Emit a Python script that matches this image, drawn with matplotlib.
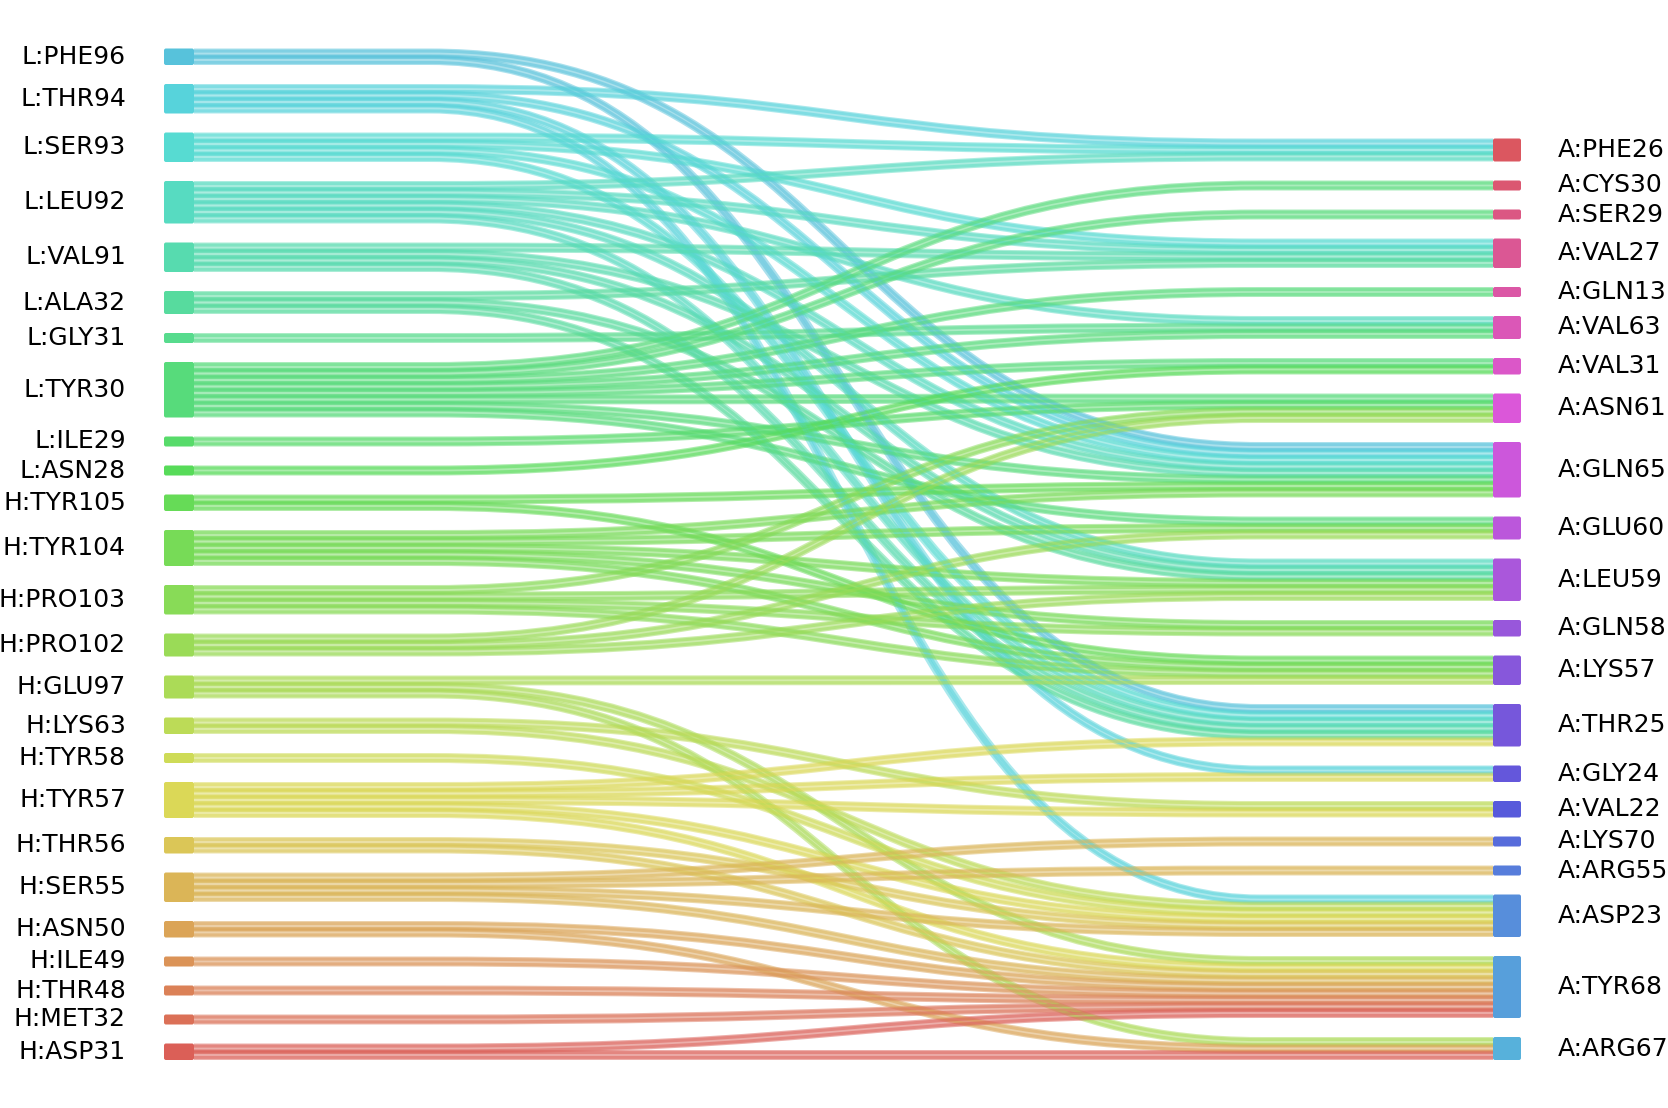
import matplotlib
matplotlib.use("Agg")
import matplotlib.pyplot as plt
from matplotlib.path import Path
from matplotlib.patches import PathPatch, FancyBboxPatch
import seaborn as sns

# ---------------- data ----------------
left_labels = ["L:PHE96", "L:THR94", "L:SER93", "L:LEU92", "L:VAL91", "L:ALA32",
               "L:GLY31", "L:TYR30", "L:ILE29", "L:ASN28", "H:TYR105", "H:TYR104",
               "H:PRO103", "H:PRO102", "H:GLU97", "H:LYS63", "H:TYR58", "H:TYR57",
               "H:THR56", "H:SER55", "H:ASN50", "H:ILE49", "H:THR48", "H:MET32",
               "H:ASP31"]
right_labels = ["A:PHE26", "A:CYS30", "A:SER29", "A:VAL27", "A:GLN13", "A:VAL63",
                "A:VAL31", "A:ASN61", "A:GLN65", "A:GLU60", "A:LEU59", "A:GLN58",
                "A:LYS57", "A:THR25", "A:GLY24", "A:VAL22", "A:LYS70", "A:ARG55",
                "A:ASP23", "A:TYR68", "A:ARG67"]

link_src = ["L:PHE96", "L:PHE96",
            "L:THR94", "L:THR94", "L:THR94", "L:THR94",
            "L:SER93", "L:SER93", "L:SER93", "L:SER93",
            "L:LEU92", "L:LEU92", "L:LEU92", "L:LEU92", "L:LEU92", "L:LEU92",
            "L:VAL91", "L:VAL91", "L:VAL91", "L:VAL91",
            "L:ALA32", "L:ALA32", "L:ALA32",
            "L:GLY31",
            "L:TYR30", "L:TYR30", "L:TYR30", "L:TYR30", "L:TYR30", "L:TYR30", "L:TYR30", "L:TYR30",
            "L:ILE29", "L:ASN28",
            "H:TYR105", "H:TYR105",
            "H:TYR104", "H:TYR104", "H:TYR104", "H:TYR104", "H:TYR104",
            "H:PRO103", "H:PRO103", "H:PRO103", "H:PRO103",
            "H:PRO102", "H:PRO102", "H:PRO102",
            "H:GLU97", "H:GLU97", "H:GLU97",
            "H:LYS63", "H:LYS63",
            "H:TYR58",
            "H:TYR57", "H:TYR57", "H:TYR57", "H:TYR57", "H:TYR57",
            "H:THR56", "H:THR56",
            "H:SER55", "H:SER55", "H:SER55", "H:SER55",
            "H:ASN50", "H:ASN50",
            "H:ILE49", "H:THR48", "H:MET32",
            "H:ASP31", "H:ASP31"]
link_dst = ["A:GLN65", "A:THR25",
            "A:PHE26", "A:GLN65", "A:GLY24", "A:ASP23",
            "A:PHE26", "A:VAL27", "A:GLN65", "A:THR25",
            "A:PHE26", "A:VAL27", "A:VAL63", "A:GLN65", "A:LEU59", "A:THR25",
            "A:VAL27", "A:GLN65", "A:LEU59", "A:THR25",
            "A:VAL27", "A:LEU59", "A:THR25",
            "A:VAL63",
            "A:CYS30", "A:SER29", "A:GLN13", "A:VAL63", "A:VAL31", "A:ASN61", "A:GLN65", "A:GLU60",
            "A:ASN61", "A:VAL31",
            "A:GLN65", "A:LYS57",
            "A:GLN65", "A:GLU60", "A:LEU59", "A:GLN58", "A:LYS57",
            "A:ASN61", "A:LEU59", "A:GLN58", "A:LYS57",
            "A:ASN61", "A:GLU60", "A:LEU59",
            "A:LYS57", "A:TYR68", "A:ARG67",
            "A:VAL22", "A:ASP23",
            "A:ASP23",
            "A:THR25", "A:GLY24", "A:VAL22", "A:ASP23", "A:TYR68",
            "A:ASP23", "A:TYR68",
            "A:LYS70", "A:ARG55", "A:ASP23", "A:TYR68",
            "A:TYR68", "A:ARG67",
            "A:TYR68", "A:TYR68", "A:TYR68",
            "A:TYR68", "A:ARG67"]
link_weight = [1] * len(link_src)

# ---------------- layout / style ----------------
W, H = 1668, 1108
UNIT = 6.5        # px per contact (slot spacing)
PAD = 3.5         # extra px per node
GAP = 19          # px between nodes
BOTTOM = 1060
LINK_W = 10.0     # px width of one link ribbon
XL0, XL1 = 164, 194
XR0, XR1 = 1493, 1521
XA, XB = 430, 1260
XM = (XA + XB) / 2
PX2PT = 72.0 / 100.0

fig = plt.figure(figsize=(W / 100, H / 100), dpi=100)
ax = fig.add_axes([0, 0, 1, 1])
ax.set_xlim(0, W)
ax.set_ylim(H, 0)
ax.axis("off")

# colors: hls palette over all nodes, left bottom->top then right bottom->top
order = left_labels[::-1] + right_labels[::-1]
pal = sns.hls_palette(len(order))
color = {lab: pal[i] for i, lab in enumerate(order)}

def node_sizes(labels, names):
    tot = {l: 0.0 for l in labels}
    for n, w in zip(names, link_weight):
        tot[n] += w
    return tot

lsz = node_sizes(left_labels, link_src)
rsz = node_sizes(right_labels, link_dst)

def stack(labels, sizes):
    tops = {}
    y = BOTTOM
    for lab in labels[::-1]:
        h = sizes[lab] * UNIT + PAD
        tops[lab] = (y - h, h)
        y -= h + GAP
    return tops

lpos = stack(left_labels, lsz)
rpos = stack(right_labels, rsz)

lidx = {l: i for i, l in enumerate(left_labels)}
ridx = {l: i for i, l in enumerate(right_labels)}

links = list(zip(link_src, link_dst, link_weight))
ys_map, yt_map = {}, {}
for lab in left_labels:
    ls = sorted([k for k, L in enumerate(links) if L[0] == lab], key=lambda k: ridx[links[k][1]])
    y = lpos[lab][0] + PAD / 2
    for k in ls:
        w = links[k][2] * UNIT
        ys_map[k] = y + w / 2
        y += w
for lab in right_labels:
    ls = sorted([k for k, L in enumerate(links) if L[1] == lab], key=lambda k: lidx[links[k][0]])
    y = rpos[lab][0] + PAD / 2
    for k in ls:
        w = links[k][2] * UNIT
        yt_map[k] = y + w / 2
        y += w

def link_path(ys, yt):
    verts = [(XL1, ys), (XA, ys), (XM, ys), (XM, yt), (XB, yt), (XR0, yt)]
    codes = [Path.MOVETO, Path.LINETO, Path.CURVE4, Path.CURVE4, Path.CURVE4, Path.LINETO]
    return Path(verts, codes)

for k, (s, t, w) in enumerate(links):
    c = color[s]
    ys, yt = ys_map[k], yt_map[k]
    ax.add_patch(PathPatch(link_path(ys, yt), fill=False, edgecolor=c, alpha=0.5,
                           lw=LINK_W * PX2PT, capstyle="butt", zorder=2))
    for off in (-2.4, 2.4):
        ax.add_patch(PathPatch(link_path(ys + off, yt + off), fill=False,
                               edgecolor=c, alpha=0.5, lw=3.0 * PX2PT,
                               capstyle="butt", zorder=3))

# nodes + labels
for lab in left_labels:
    top, h = lpos[lab]
    ax.add_patch(FancyBboxPatch((XL0, top), XL1 - XL0, h,
                                boxstyle="round,pad=0,rounding_size=2",
                                fc=color[lab], ec="none", zorder=5))
    ax.text(XL0 - 38, top + h / 2, lab, ha="right", va="center",
            fontsize=18, color="black", zorder=6)
for lab in right_labels:
    top, h = rpos[lab]
    ax.add_patch(FancyBboxPatch((XR0, top), XR1 - XR0, h,
                                boxstyle="round,pad=0,rounding_size=2",
                                fc=color[lab], ec="none", zorder=5))
    ax.text(XR1 + 37, top + h / 2, lab, ha="left", va="center",
            fontsize=18, color="black", zorder=6)

fig.savefig("out.png", dpi=100, facecolor="white")
